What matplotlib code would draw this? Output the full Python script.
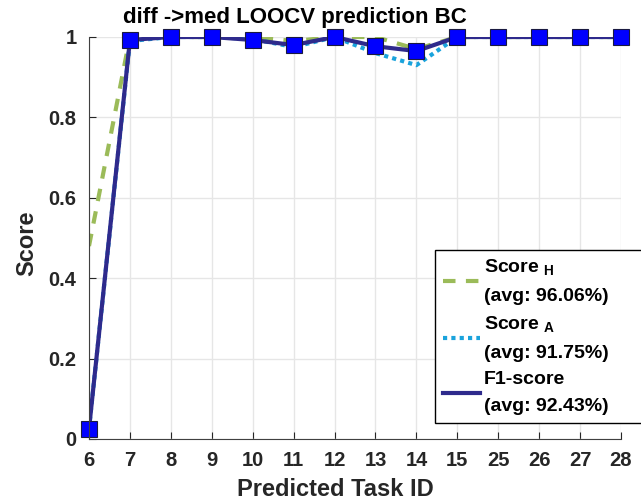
import matplotlib
matplotlib.use("Agg")
import matplotlib.pyplot as plt

plt.rcParams["font.family"] = ["Liberation Sans", "DejaVu Sans"]
plt.rcParams["font.weight"] = "bold"
plt.rcParams["mathtext.fontset"] = "custom"
plt.rcParams["mathtext.bf"] = "Liberation Sans:bold"
plt.rcParams["mathtext.rm"] = "Liberation Sans:bold"

task_ids = ["6", "7", "8", "9", "10", "11", "12", "13", "14", "15", "25", "26", "27", "28"]
score_h = [0.48, 1.0, 1.0, 1.0, 1.0, 0.99, 1.0, 1.0, 0.97, 1.0, 1.0, 1.0, 1.0, 1.0]
score_a = [0.025, 0.99, 1.0, 1.0, 0.995, 0.975, 1.0, 0.96, 0.93, 1.0, 1.0, 1.0, 1.0, 1.0]
f1_score = [0.025, 0.9925, 1.0, 1.0, 0.9925, 0.98, 1.0, 0.977, 0.965, 1.0, 1.0, 1.0, 1.0, 1.0]
avg_h, avg_a, avg_f1 = 96.06, 91.75, 92.43

W, H = 641, 503
fig = plt.figure(figsize=(W / 100, H / 100), dpi=100)
ax_l, ax_r, ax_t, ax_b = 89, 621, 37, 439
ax_w, ax_h = ax_r - ax_l, ax_b - ax_t
ax = fig.add_axes([ax_l / W, 1 - ax_b / H, ax_w / W, ax_h / H])

xs = list(range(len(task_ids)))
ax.plot(xs, score_h, linestyle=(0, (3, 2.5)), color="#9bbb59", linewidth=3,
        label=f"Score $_{{\\mathrm{{H}}}}$\n(avg: {avg_h:.2f}%)")
ax.plot(xs, score_a, linestyle=(0, (1, 1)), color="#1aa3dc", linewidth=3,
        label=f"Score $_{{\\mathrm{{A}}}}$\n(avg: {avg_a:.2f}%)")
ax.plot(xs, f1_score, color="#2e2a8c", linewidth=3,
        label=f"F1-score\n(avg: {avg_f1:.2f}%)")
ax.plot(xs, f1_score, linestyle="none", marker="s", markersize=11,
        markerfacecolor="#0000ff", markeredgecolor="#1a1a40", markeredgewidth=0.8,
        clip_on=False)

ax.set_xlim(0, len(task_ids) - 1)
ax.set_ylim(0, 1)
ax.set_xticks(xs)
ax.set_xticklabels(task_ids)
ax.set_yticks([0, 0.2, 0.4, 0.6, 0.8, 1])
ax.set_yticklabels(["0", "0.2", "0.4", "0.6", "0.8", "1"])
ax.tick_params(direction="in", length=5, labelsize=14.5, colors="#262626", pad=9)
ax.grid(True, color="#e6e6e6", linewidth=1)
ax.set_axisbelow(True)
for side in ["top", "right"]:
    ax.spines[side].set_visible(False)
for side in ["left", "bottom"]:
    ax.spines[side].set_color("#404040")

ax.set_xlabel("Predicted Task ID", fontsize=17, fontweight="bold", color="#262626")
ax.xaxis.set_label_coords((335 - ax_l) / ax_w, (ax_b - 478) / ax_h)
ax.set_ylabel("Score", fontsize=17, fontweight="bold", color="#262626")
ax.yaxis.set_label_coords((38 - ax_l) / ax_w, (ax_b - 243) / ax_h)
fig.text(295 / W, 1 - 18 / H, "diff ->med LOOCV prediction BC", ha="center",
         va="center", fontsize=16, fontweight="bold", color="black")

# legend box runs past the right edge of the figure
leg = ax.legend(loc="lower left", mode="expand",
                bbox_to_anchor=((435 - ax_l) / ax_w, (ax_b - 423) / ax_h,
                                (660 - 435) / ax_w, (423 - 249) / ax_h),
                fontsize=14, frameon=True, fancybox=False, edgecolor="black",
                framealpha=1, handlelength=1.9, handletextpad=0.2, labelspacing=0.5,
                borderpad=0.4, borderaxespad=0)
leg.get_frame().set_linewidth(1)
for t in leg.get_texts():
    t.set_linespacing(1.75)

fig.savefig("out.png", dpi=100)
